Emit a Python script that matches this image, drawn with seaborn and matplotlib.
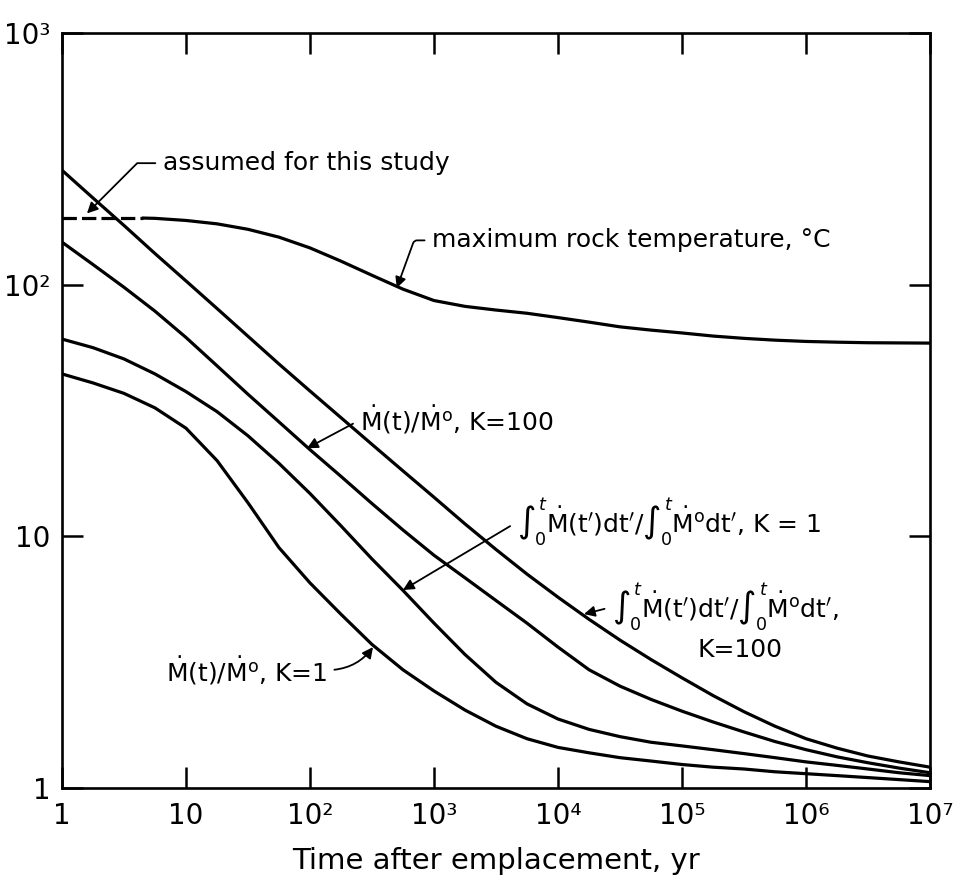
import matplotlib
matplotlib.use("Agg")
import matplotlib.pyplot as plt
import seaborn as sns

# time after emplacement, yr (quarter-decade grid the curves were read on)
t = [1, 1.78, 3.16, 5.62, 10, 17.8, 31.6, 56.2, 100, 178, 316, 562, 1e3,
     1.78e3, 3.16e3, 5.62e3, 1e4, 1.78e4, 3.16e4, 5.62e4, 1e5, 1.78e5,
     3.16e5, 5.62e5, 1e6, 1.78e6, 3.16e6, 5.62e6, 1e7]

# integral ratio, K = 100 (top curve)
int_k100 = [285, 221, 172, 133, 103.5, 80.4, 62.4, 48.4, 37.8, 29.6, 23.2,
            18.2, 14.3, 11.2, 8.87, 7.08, 5.73, 4.68, 3.87, 3.24, 2.74, 2.33,
            2.01, 1.76, 1.57, 1.44, 1.34, 1.27, 1.21]
# rate ratio, K = 100
rate_k100 = [147.6, 120.2, 97.7, 78.5, 61.7, 47.6, 36.7, 28.5, 22.1, 17.3,
             13.5, 10.6, 8.41, 6.84, 5.56, 4.52, 3.63, 2.95, 2.54, 2.25, 2.02,
             1.83, 1.67, 1.53, 1.42, 1.33, 1.26, 1.20, 1.15]
# integral ratio, K = 1
int_k1 = [60.8, 56.2, 50.7, 44.2, 37.6, 31.3, 25.1, 19.5, 14.8, 11.0, 8.13,
          6.10, 4.52, 3.39, 2.63, 2.16, 1.88, 1.71, 1.60, 1.52, 1.47, 1.42,
          1.37, 1.32, 1.27, 1.23, 1.19, 1.15, 1.12]
# rate ratio, K = 1
rate_k1 = [44.2, 40.7, 37.0, 32.4, 26.9, 20.0, 13.6, 9.02, 6.53, 4.90, 3.72,
           2.95, 2.43, 2.04, 1.76, 1.57, 1.45, 1.38, 1.32, 1.28, 1.24, 1.21,
           1.19, 1.16, 1.14, 1.12, 1.10, 1.08, 1.06]

# maximum rock temperature, deg C
t_assumed = [1, 4.47]
temp_assumed = [184, 184]
t_temp = [4.47, 5.62, 10, 17.8, 31.6, 56.2, 100, 178, 316, 562, 1e3, 1.78e3,
          3.16e3, 5.62e3, 1e4, 1.78e4, 3.16e4, 5.62e4, 1e5, 1.78e5, 3.16e5,
          5.62e5, 1e6, 1.78e6, 3.16e6, 5.62e6, 1e7]
temp = [184, 183.5, 180, 174.5, 166, 154.5, 140, 124, 109, 96, 86.5, 82,
        79.3, 77, 74, 71, 68, 66, 64.3, 62.5, 61.2, 60.2, 59.5, 59.1, 58.8,
        58.7, 58.6]

x_ticks = [1, 10, 1e2, 1e3, 1e4, 1e5, 1e6, 1e7]
x_labels = ["1", "10", "10²", "10³", "10⁴", "10⁵", "10⁶", "10⁷"]
y_ticks = [1, 10, 1e2, 1e3]
y_labels = ["1", "10", "10²", "10³"]

sns.set_style("ticks")
plt.rcParams["font.family"] = ["DejaVu Sans"]
plt.rcParams["mathtext.fontset"] = "dejavusans"
plt.rcParams["text.color"] = "black"
plt.rcParams["axes.labelcolor"] = "black"

fig = plt.figure(figsize=(9.58, 8.88), dpi=100)
ax = fig.add_axes([0.0647, 0.1126, 0.9061, 0.8502])

lw = 2.3
for y in (int_k100, rate_k100, int_k1, rate_k1):
    sns.lineplot(x=t, y=y, ax=ax, color="black", lw=lw, estimator=None, sort=False)
sns.lineplot(x=t_temp, y=temp, ax=ax, color="black", lw=lw, estimator=None, sort=False)
sns.lineplot(x=t_assumed, y=temp_assumed, ax=ax, color="black", lw=lw,
             estimator=None, sort=False)
ax.lines[-1].set_dashes((4.5, 1.6))

ax.set_xscale("log")
ax.set_yscale("log")
ax.set_xlim(1, 1e7)
ax.set_ylim(1, 1e3)
ax.set_xticks(x_ticks)
ax.set_xticklabels(x_labels)
ax.set_yticks(y_ticks)
ax.set_yticklabels(y_labels)
ax.minorticks_off()
ax.tick_params(which="major", direction="in", length=15, width=1.8,
               top=True, right=True, labelsize=20, pad=10, colors="black")
ax.tick_params(axis="y", pad=8)
for s in ax.spines.values():
    s.set_linewidth(1.9)
    s.set_color("black")
ax.set_xlabel("Time after emplacement, yr", fontsize=21, labelpad=12)
ax.set_ylabel("")

fs = 18
arrow = dict(arrowstyle="-|>", color="black", lw=1.3, mutation_scale=16,
             shrinkA=3, shrinkB=0)

ax.annotate("assumed for this study", xy=(1.59, 192), xytext=(6.5, 304),
            ha="left", va="center", fontsize=fs,
            arrowprops=dict(arrow, relpos=(0, 0.5),
                            connectionstyle="angle,angleA=0,angleB=45,rad=0"))
ax.annotate("maximum rock temperature, °C", xy=(501, 97), xytext=(964, 150),
            ha="left", va="center", fontsize=fs,
            arrowprops=dict(arrow, relpos=(0, 0.5),
                            connectionstyle="angle,angleA=0,angleB=70,rad=3"))
ax.annotate(r"$\mathrm{\dot{M}(t)/\dot{M}^{o}}$, K=100", xy=(94.6, 22.4),
            xytext=(253, 29), ha="left", va="center", fontsize=fs,
            arrowprops=dict(arrow, relpos=(0, 0.5)))
ax.annotate(r"$\int_0^t\mathrm{\dot{M}(t^\prime)dt^\prime}/\int_0^t\mathrm{\dot{M}^{o}dt^\prime}$, K = 1",
            xy=(562, 6.12), xytext=(4670, 11.4), ha="left", va="center",
            fontsize=fs, arrowprops=dict(arrow, relpos=(0, 0.5)))
ax.annotate(r"$\int_0^t\mathrm{\dot{M}(t^\prime)dt^\prime}/\int_0^t\mathrm{\dot{M}^{o}dt^\prime}$,",
            xy=(16200, 4.91), xytext=(27200, 5.24), ha="left", va="center",
            fontsize=fs, arrowprops=dict(arrow, relpos=(0, 0.5)))
ax.text(2.94e5, 3.53, "K=100", ha="center", va="center", fontsize=fs)
ax.annotate(r"$\mathrm{\dot{M}(t)/\dot{M}^{o}}$, K=1", xy=(322, 3.63),
            xytext=(137, 2.94), ha="right", va="center", fontsize=fs,
            arrowprops=dict(arrow, relpos=(1, 0.5),
                            connectionstyle="arc3,rad=0.25"))

fig.savefig("out.png", dpi=100)
